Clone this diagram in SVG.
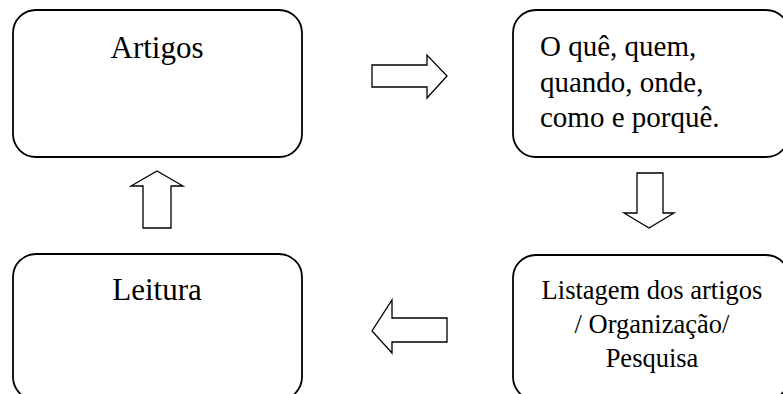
<svg xmlns="http://www.w3.org/2000/svg" width="783" height="394" viewBox="0 0 783 394">
<style>
.box{fill:#fff;stroke:#000;stroke-width:1.8}
.arr{fill:#fff;stroke:#000;stroke-width:1.3;stroke-linejoin:miter}
.t{font-family:'Liberation Serif','Times New Roman',Times,serif;fill:#000}
.big{font-size:31px}
.mid{font-size:29px}
.sm{font-size:26.5px}
</style>
<rect width="783" height="394" fill="#fff"/>
<g id="artigos">
<rect class="box" x="13" y="10" width="289" height="147" rx="23" ry="23"/>
<text class="t big" font-family="Liberation Serif, serif" x="157" y="58" text-anchor="middle">Artigos</text>
</g>
<g id="perguntas">
<rect class="box" x="513" y="10" width="276" height="147" rx="23" ry="23"/>
<text class="t mid" font-family="Liberation Serif, serif" x="540" y="56">O quê, quem,</text>
<text class="t mid" font-family="Liberation Serif, serif" x="540" y="92">quando, onde,</text>
<text class="t mid" font-family="Liberation Serif, serif" x="540" y="127">como e porquê.</text>
</g>
<g id="listagem">
<rect class="box" x="513" y="255" width="276" height="145" rx="23" ry="23"/>
<text class="t sm" font-family="Liberation Serif, serif" x="652" y="299" text-anchor="middle">Listagem dos artigos</text>
<text class="t sm" font-family="Liberation Serif, serif" x="652" y="333" text-anchor="middle">/ Organização/</text>
<text class="t sm" font-family="Liberation Serif, serif" x="652" y="367" text-anchor="middle">Pesquisa</text>
</g>
<g id="leitura">
<rect class="box" x="13" y="254" width="289" height="146" rx="23" ry="23"/>
<text class="t big" font-family="Liberation Serif, serif" x="157" y="300" text-anchor="middle">Leitura</text>
</g>
<g id="connectors">
<polygon class="arr" points="372,65 427,65 427,55 447,76 427,98 427,87 372,87"/>
<polygon class="arr" points="637,173 663,173 663,213 674,213 649,228 624,213 637,213"/>
<polygon class="arr" points="447,318 392,318 392,300 372,331 392,353 392,342 447,342"/>
<polygon class="arr" points="143,228 143,186 131,186 157,171 183,186 171,186 171,228"/>
</g>
</svg>
